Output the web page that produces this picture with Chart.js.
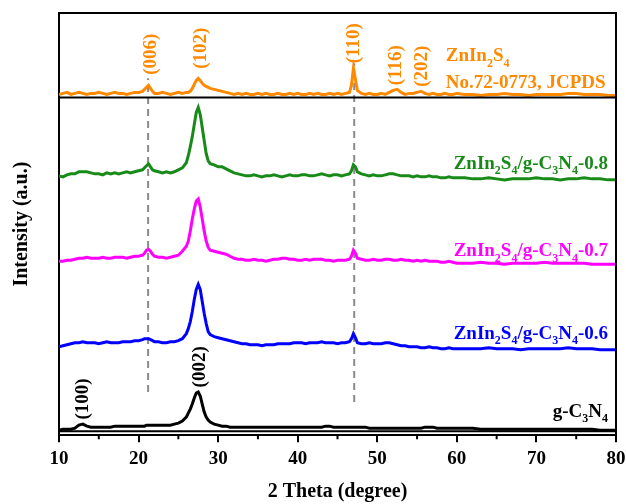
<!DOCTYPE html>
<html>
<head>
<meta charset="utf-8">
<script src="https://cdn.jsdelivr.net/npm/chart.js@4.4.1/dist/chart.umd.min.js"></script>
<style>
html,body{margin:0;padding:0;background:#fff;}
#wrap{width:626px;height:504px;}
</style>
</head>
<body>
<div id="wrap"><canvas id="c" width="626" height="504"></canvas></div>
<script>
// 2θ grid (degree)
const twoTheta = [
10,10.5,11,11.5,12,12.5,13,13.5,14,14.5,15,15.5,16,16.5,17,17.5,18,18.5,19,19.5,20,
20.5,20.75,21,21.25,21.5,21.75,22,
22.5,23,23.5,24,24.5,25,25.5,26,
26.25,26.5,26.75,27,27.25,27.5,27.75,28,28.25,28.5,28.75,29,
29.5,30,30.5,31,31.5,32,32.5,33,33.5,34,34.5,35,35.5,36,36.5,37,37.5,38,38.5,39,39.5,40,40.5,41,41.5,42,42.5,43,43.5,44,44.5,45,45.5,46,46.5,
46.75,47,47.25,47.5,
48,48.5,49,49.5,50,50.5,51,51.5,52,52.5,53,53.5,54,54.5,55,55.5,56,56.5,57,57.5,58,58.5,59,59.5,60,
61,62,63,64,65,66,67,68,69,70,71,72,73,74,75,76,77,78,79,80
];
// Intensities (a.u., stacked with offsets as plotted)
const zis = [
339,340,341,339,340,341,340,339,340,340,341,340,339,340,341,340,340,339,340,341,341,
342,344,346,348,345,342,340,
340,341,340,339,340,341,340,341,
341,342,345,349,353,355,353,350,348,347,346,345,
344,343,342,341,340,339,340,339,340,339,339,340,339,340,339,339,340,339,339,340,339,340,339,339,340,339,340,339,339,340,339,340,339,340,341,
348,365,354,343,
340,339,340,339,339,340,339,341,343,344,341,339,340,340,341,342,340,339,340,339,339,340,339,339,340,
339,339,338,339,339,340,339,339,338,339,339,339,339,340,340,339,339,339,338,338
];
const zis08 = [
258,257,259,260,260,262,262,262,261,260,260,259,261,260,261,260,261,262,261,262,263,
264,266,268,270,267,264,263,
262,261,262,261,262,264,266,271,
278,287,297,309,321,326,319,306,293,280,273,270,
269,267,267,265,263,261,260,259,258,258,259,258,257,258,258,259,258,257,258,259,258,258,259,259,258,258,259,260,259,258,259,259,258,259,260,
263,269,267,262,
260,259,258,259,258,258,259,260,260,259,258,258,258,257,258,257,257,258,257,257,256,256,257,256,256,
256,255,255,256,255,254,255,255,255,256,255,255,254,255,255,256,255,255,254,254
];
const zis07 = [
173,173,174,174,175,176,176,177,176,176,176,177,176,176,177,177,177,176,177,178,178,
179,181,184,185,183,180,178,
177,177,176,177,178,179,183,188,
193,203,215,225,233,235,227,215,203,193,187,184,
183,182,181,180,178,176,175,175,174,174,175,174,174,173,174,175,175,176,176,175,175,174,174,175,174,175,175,175,174,174,173,174,174,174,175,
178,184,181,176,
175,174,174,175,174,174,175,175,174,174,175,174,174,173,174,173,174,173,173,173,172,172,173,172,171,
171,171,172,171,171,170,171,171,171,171,172,171,171,171,171,171,170,170,170,170
];
const zis06 = [
88,89,90,91,92,92,93,92,92,92,91,92,93,92,92,92,93,93,93,94,94,
95,96,96,96,95,94,93,
93,92,92,93,93,94,96,101,
106,113,123,135,145,150,145,133,121,111,103,100,
98,97,96,95,94,93,92,91,91,90,90,90,89,90,90,90,91,91,91,91,92,92,92,91,92,92,92,93,92,92,92,91,92,92,93,
96,101,97,92,
91,91,92,91,91,91,92,92,91,90,89,89,88,88,88,87,87,88,87,87,86,86,87,86,86,
86,86,86,87,86,86,86,85,86,86,86,86,86,87,86,86,86,85,85,85
];
const gcn = [
5,6,6,6,7,10,11,9,8,8,8,8,8,8,9,9,9,9,9,9,9,
9,9,10,10,10,10,10,
10,10,10,10,11,12,14,18,
22,26,31,37,42,43,39,31,23,18,15,13,
11,10,9,9,8,8,8,8,8,8,8,8,8,8,8,8,8,8,8,8,8,8,8,8,8,8,8,8,9,9,8,8,8,8,8,
8,8,8,8,
8,8,7,7,7,7,7,7,7,7,7,7,7,7,7,7,8,8,8,7,7,7,7,7,7,
7,7,6,6,6,6,6,6,6,6,6,6,6,6,6,6,6,5,5,5
];
const seriesNames = ['ZnIn_2S_4', 'ZnIn_2S_4/g-C_3N_4-0.8', 'ZnIn_2S_4/g-C_3N_4-0.7', 'ZnIn_2S_4/g-C_3N_4-0.6', 'g-C_3N_4'];
const seriesColors = ['#FF8A00', '#188A18', '#FF00FF', '#0000FF', '#000000'];
const seriesValues = [zis, zis08, zis07, zis06, gcn];
const jcpdsText = 'No.72-0773, JCPDS';
// peak index labels
const peakLabels = ['(006)', '(102)', '(110)', '(116)', '(202)', '(100)', '(002)'];
const peakAngles = [21.4, 27.7, 47.0, 52.2, 55.5, 12.9, 27.6];
const peakLabelLevel = [379, 385, 390, 368, 367, 36, 68];
const peakLabelColor = ['#FF8A00','#FF8A00','#FF8A00','#FF8A00','#FF8A00','#000000','#000000'];
// reference dashed lines
const refAngles = [21.2, 47.1];
const refTop = [355, 370];
const refBottom = [43, 33];
const minorTicks = [15, 25, 35, 45, 55, 65, 75];

const FONT = '"Liberation Serif", "Times New Roman", serif';

function parseRich(s){
  const segs=[]; let buf='';
  for(let i=0;i<s.length;i++){
    if(s[i]==='_' && i+1<s.length){ if(buf){segs.push([buf,false]);buf='';} segs.push([s[i+1],true]); i++; }
    else buf+=s[i];
  }
  if(buf) segs.push([buf,false]);
  return segs;
}
function drawRich(ctx, s, x, y, align, size, color){
  const segs=parseRich(s);
  const subSize=Math.round(size*0.62);
  let w=0;
  segs.forEach(([t,sub])=>{ctx.font='bold '+(sub?subSize:size)+'px '+FONT; w+=ctx.measureText(t).width;});
  let cx = align==='right' ? x-w : x;
  ctx.fillStyle=color; ctx.textBaseline='alphabetic'; ctx.textAlign='left';
  segs.forEach(([t,sub])=>{
    ctx.font='bold '+(sub?subSize:size)+'px '+FONT;
    ctx.fillText(t,cx,y+(sub?size*0.28:0));
    cx+=ctx.measureText(t).width;
  });
}

const decor = {
  id:'decor',
  afterDraw(chart){
    const {ctx, chartArea:a, scales:{x,y}} = chart;
    ctx.save();
    ctx.strokeStyle='#000'; ctx.lineWidth=2;
    ctx.beginPath();
    ctx.moveTo(a.left,a.top); ctx.lineTo(a.right,a.top); ctx.lineTo(a.right,a.bottom);
    const ys=y.getPixelForValue(336);
    ctx.moveTo(a.left,ys); ctx.lineTo(a.right,ys);
    const yb=y.getPixelForValue(4);
    ctx.moveTo(a.left,yb); ctx.lineTo(a.right,yb);
    minorTicks.forEach(v=>{const px=x.getPixelForValue(v); ctx.moveTo(px,a.bottom); ctx.lineTo(px,a.bottom+4);});
    ctx.stroke();
    // peak labels (rotated)
    peakLabels.forEach((t,i)=>{
      ctx.save();
      ctx.translate(x.getPixelForValue(peakAngles[i]), y.getPixelForValue(peakLabelLevel[i]));
      ctx.rotate(-Math.PI/2);
      ctx.font='bold 19px '+FONT; ctx.fillStyle=peakLabelColor[i];
      ctx.textAlign='center'; ctx.textBaseline='middle';
      ctx.fillText(t,0,1);
      ctx.restore();
    });
    // series labels
    const xl=x.getPixelForValue(58.6);
    drawRich(ctx, seriesNames[0], xl, y.getPixelForValue(372), 'left', 19, seriesColors[0]);
    drawRich(ctx, jcpdsText, xl, y.getPixelForValue(345), 'left', 19, seriesColors[0]);
    const xr=x.getPixelForValue(79.0);
    const lvl=[null,265,178,96,18];
    for(let i=1;i<5;i++) drawRich(ctx, seriesNames[i], xr, y.getPixelForValue(lvl[i]), 'right', 19, seriesColors[i]);
    ctx.restore();
  }
};

const datasets = [];
seriesValues.forEach((vals,i)=>{
  datasets.push({
    label: seriesNames[i].replace(/_/g,''),
    data: twoTheta.map((t,k)=>({x:t,y:vals[k]})),
    borderColor: seriesColors[i], borderWidth: 3, pointRadius: 0, tension: 0, order: 1
  });
});
refAngles.forEach((a,i)=>{
  datasets.push({
    label:'ref'+i,
    data:[{x:a,y:refBottom[i]},{x:a,y:refTop[i]}],
    borderColor:'#8a8a8a', borderWidth:2, borderDash:[7,5], pointRadius:0, order: 5
  });
});

new Chart(document.getElementById('c'), {
  type:'line',
  data:{datasets},
  plugins:[decor],
  options:{
    responsive:false, animation:false,
    layout:{padding:{top:13,right:10,left:4,bottom:0}},
    plugins:{legend:{display:false}, tooltip:{enabled:false}},
    scales:{
      x:{type:'linear', min:10, max:80,
        afterFit(s){ s.paddingRight=0; s.paddingLeft=0; },
        ticks:{stepSize:10, color:'#000', padding:5, font:{family:FONT, size:19, weight:'bold'}},
        grid:{display:true, drawOnChartArea:false, drawTicks:true, tickLength:7, color:'#000', lineWidth:2},
        border:{display:true, color:'#000', width:2},
        title:{display:true, text:'2 Theta (degree)', color:'#000', font:{family:FONT, size:20, weight:'bold'}, padding:{top:5,bottom:0}}
      },
      y:{type:'linear', min:0, max:420,
        ticks:{display:false},
        grid:{display:false, drawTicks:false},
        border:{display:true, color:'#000', width:2},
        title:{display:true, text:'Intensity (a.u.)', color:'#000', font:{family:FONT, size:20, weight:'bold'}, padding:{top:6,bottom:25}}
      }
    }
  }
});
</script>
</body>
</html>
